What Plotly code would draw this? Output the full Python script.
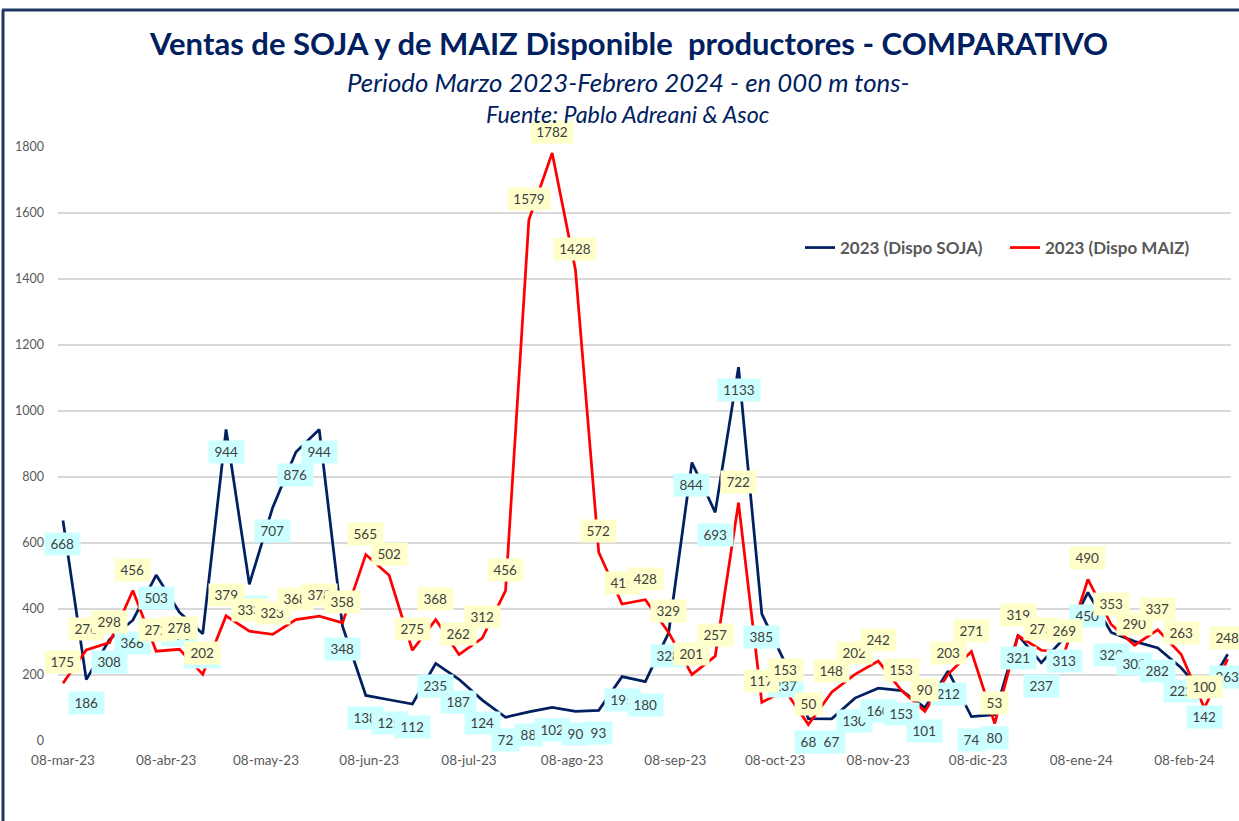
import pandas as pd
import plotly.graph_objects as go

# ---- data (000 m tons), weekly from 08-mar-23 ----
start_date = "2023-03-08"
n_weeks = 51

soja = [668, 186, 308, 366, 503, 390, 325, 944, 475, 707,
        876, 944, 348, 138, 125, 112, 235, 187, 124, 72,
        88, 102, 90, 93, 195, 180, 328, 844, 693, 1133,
        385, 237, 68, 67, 130, 160, 153, 101, 212, 74,
        80, 321, 237, 313, 450, 329, 302, 282, 222, 142,
        263]

maiz = [175, 276, 298, 456, 272, 278, 202, 379, 333, 323,
        368, 378, 358, 565, 502, 275, 368, 262, 312, 456,
        1579, 1782, 1428, 572, 415, 428, 329, 201, 257, 722,
        117, 153, 50, 148, 202, 242, 153, 90, 203, 271,
        53, 319, 275, 269, 490, 353, 290, 337, 263, 100,
        248]

tick_dates = ["2023-03-08", "2023-04-08", "2023-05-08", "2023-06-08",
              "2023-07-08", "2023-08-08", "2023-09-08", "2023-10-08",
              "2023-11-08", "2023-12-08", "2024-01-08", "2024-02-08"]
tick_labels = ["08-mar-23", "08-abr-23", "08-may-23", "08-jun-23",
               "08-jul-23", "08-ago-23", "08-sep-23", "08-oct-23",
               "08-nov-23", "08-dic-23", "08-ene-24", "08-feb-24"]

series_names = ["2023 (Dispo SOJA)", "2023 (Dispo MAIZ)"]

title = "Ventas de SOJA y de MAIZ Disponible  productores - COMPARATIVO"
subtitle = "Periodo Marzo 2023-Febrero 2024 - en 000 m tons-"
source = "Fuente: Pablo Adreani & Asoc"

dates = pd.date_range(start_date, periods=n_weeks, freq="7D")

NAVY = "#002060"
RED = "#FF0000"
FRAME = "#1F3864"
FONT = "Lato, 'Open Sans', sans-serif"
GRAY = "#595959"

W, H = 1239, 821
ML, MR, MT, MB = 58, 8, 147, 80
PW, PH = W - ML - MR, H - MT - MB


def px_x(p):
    return (p - ML) / PW


def px_y(p):
    return (H - MB - p) / PH


fig = go.Figure()
fig.add_trace(go.Scatter(x=dates, y=soja, mode="lines", name=series_names[0],
                         line=dict(color=NAVY, width=2.75), legend="legend"))
fig.add_trace(go.Scatter(x=dates, y=maiz, mode="lines", name=series_names[1],
                         line=dict(color=RED, width=2.75), legend="legend2"))

annotations = []
# SOJA labels below points (drawn first), MAIZ labels above (drawn on top)
for d, v in zip(dates, soja):
    s = str(v)
    annotations.append(dict(x=d, y=v, xref="x", yref="y", text=s, showarrow=False,
                            yshift=-23, bgcolor="#CCFFFF", width=12 + 7.5 * len(s),
                            height=22, borderpad=0,
                            font=dict(family=FONT, size=13.5, color="#404040")))
for d, v in zip(dates, maiz):
    s = str(v)
    annotations.append(dict(x=d, y=v, xref="x", yref="y", text=s, showarrow=False,
                            yshift=21, bgcolor="#FFFFCC", width=12 + 7.5 * len(s),
                            height=22, borderpad=0,
                            font=dict(family=FONT, size=13.5, color="#404040")))

title_cx = px_x(628)
annotations.append(dict(x=title_cx, y=px_y(43), xref="paper", yref="paper",
                        yanchor="middle", xanchor="center",
                        text="<b>" + title + "</b>", showarrow=False,
                        font=dict(family=FONT, size=31, color=NAVY)))
annotations.append(dict(x=title_cx, y=px_y(82), xref="paper", yref="paper",
                        yanchor="middle", xanchor="center",
                        text="<i>" + subtitle + "</i>", showarrow=False,
                        font=dict(family=FONT, size=25.8, color=NAVY)))
annotations.append(dict(x=title_cx, y=px_y(114), xref="paper", yref="paper",
                        yanchor="middle", xanchor="center",
                        text="<i>" + source + "</i>", showarrow=False,
                        font=dict(family=FONT, size=23.3, color=NAVY)))

legend_style = dict(orientation="h", xanchor="left", yanchor="middle",
                    y=px_y(248), bgcolor="rgba(0,0,0,0)", itemwidth=30,
                    font=dict(family=FONT, size=17, color=GRAY, weight="bold"))

fig.update_layout(
    width=W, height=H,
    margin=dict(l=ML, r=MR, t=MT, b=MB, autoexpand=False),
    paper_bgcolor="white", plot_bgcolor="white",
    font=dict(family=FONT, size=13, color=GRAY),
    showlegend=True,
    legend=dict(x=px_x(800), **legend_style),
    legend2=dict(x=px_x(1005), **legend_style),
    annotations=annotations,
    shapes=[
        dict(type="line", xref="paper", yref="paper",
             x0=px_x(2), x1=px_x(W + 5), y0=px_y(10), y1=px_y(10),
             line=dict(color=FRAME, width=3), layer="above"),
        dict(type="line", xref="paper", yref="paper",
             x0=px_x(3), x1=px_x(3), y0=px_y(10), y1=px_y(H + 5),
             line=dict(color=FRAME, width=3), layer="above"),
    ],
)
fig.update_xaxes(type="date", range=["2023-03-06 12:00", "2024-02-22"],
                 tickvals=tick_dates, ticktext=tick_labels, showgrid=False,
                 showline=False, zeroline=False, ticks="", ticklabelstandoff=9,
                 tickfont=dict(family=FONT, size=13.5, color=GRAY))
fig.update_yaxes(range=[0, 1800], dtick=200, showgrid=True, gridcolor="#D9D9D9",
                 gridwidth=1.5, zeroline=False, showline=False, ticks="",
                 ticklabelstandoff=13,
                 tickfont=dict(family=FONT, size=12.5, color=GRAY))

fig.write_html(
    "out.html",
    config={"displayModeBar": False},
    post_script=("document.body.style.margin='0';"
                 "document.body.style.overflow='hidden';"
                 "document.documentElement.style.overflow='hidden';"),
)
